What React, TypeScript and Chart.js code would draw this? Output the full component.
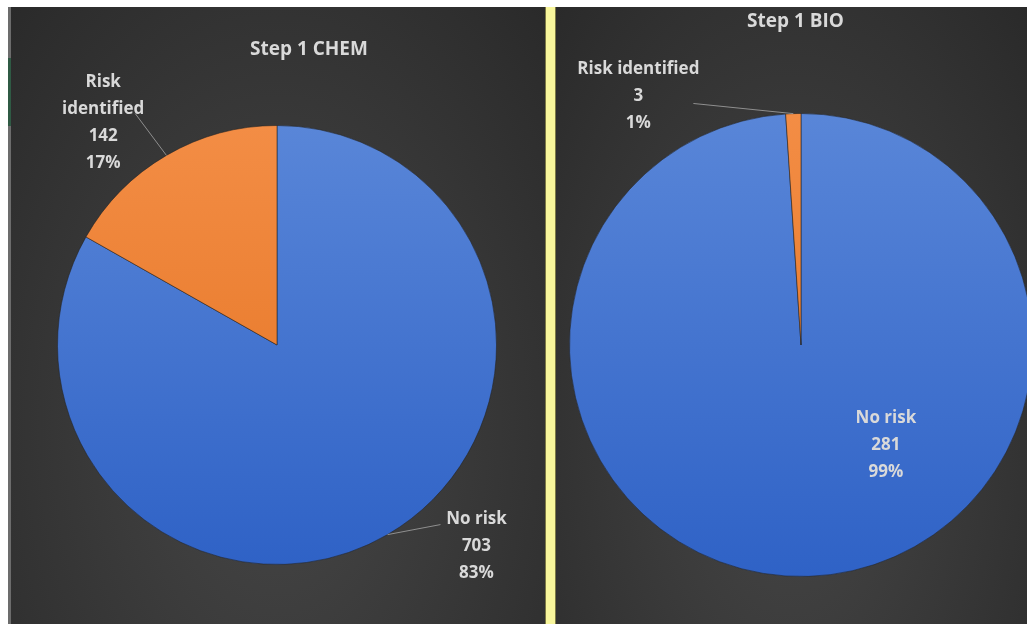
import React, { useEffect, useRef } from "react";
import { Chart, registerables } from "chart.js";

Chart.register(...registerables);

// ---- data ----
const chemTitle = "Step 1 CHEM";
const chemCategories = ["No risk", "Risk identified"];
const chemValues = [703, 142];

const bioTitle = "Step 1 BIO";
const bioCategories = ["No risk", "Risk identified"];
const bioValues = [281, 3];

// ---- styles ----
const sliceTop = ["#5986d8", "#f38d45"];
const sliceBottom = ["#2f62c6", "#e3711f"];
const textColor = "#d9d9d9";
const leaderColor = "#8f8f8f";
const FONT = "'Open Sans', Lato, sans-serif";

type LabelSpec = {
  angle: number; // degrees clockwise from 12 o'clock
  dist: number; // fraction of outer radius
  wrap: boolean;
  leader: [number, number] | null; // leader end offset from label centre
};

const chemLabels: LabelSpec[] = [
  { angle: 135.3, dist: 1.292, wrap: false, leader: [-36, -22] },
  { angle: 322.0, dist: 1.286, wrap: true, leader: [32, -9] },
];
const bioLabels: LabelSpec[] = [
  { angle: 139.6, dist: 0.566, wrap: false, leader: null },
  { angle: 326.8, dist: 1.283, wrap: false, leader: [55, 7] },
];

type Props = {
  title: string;
  titleX: number;
  titleY: number;
  categories: string[];
  values: number[];
  labels: LabelSpec[];
  padding: { left: number; right: number; top: number; bottom: number };
  left: number;
  width: number;
};

function PieChart(p: Props) {
  const ref = useRef<HTMLCanvasElement | null>(null);
  useEffect(() => {
    if (!ref.current) return;
    const total = p.values.reduce((a, b) => a + b, 0);
    const labelPlugin = {
      id: "pieLabels",
      afterDatasetsDraw(chart: any) {
        const ctx = chart.ctx as CanvasRenderingContext2D;
        const meta = chart.getDatasetMeta(0);
        ctx.save();
        ctx.fillStyle = textColor;
        ctx.textAlign = "center";
        ctx.textBaseline = "middle";
        ctx.font = `bold 17px ${FONT}`;
        meta.data.forEach((arc: any, i: number) => {
          const { x, y, startAngle, endAngle, outerRadius } = arc.getProps(
            ["x", "y", "startAngle", "endAngle", "outerRadius"],
            true
          );
          const spec = p.labels[i];
          const a = ((spec.angle - 90) * Math.PI) / 180;
          const lx = x + Math.cos(a) * spec.dist * outerRadius;
          const ly = y + Math.sin(a) * spec.dist * outerRadius;
          if (spec.leader) {
            const mid = (startAngle + endAngle) / 2;
            ctx.strokeStyle = leaderColor;
            ctx.lineWidth = 1;
            ctx.beginPath();
            ctx.moveTo(x + Math.cos(mid) * outerRadius, y + Math.sin(mid) * outerRadius);
            ctx.lineTo(lx + spec.leader[0], ly + spec.leader[1]);
            ctx.stroke();
          }
          const pct = Math.round((p.values[i] / total) * 100) + "%";
          const lines = (spec.wrap ? p.categories[i].split(" ") : [p.categories[i]]).concat([
            String(p.values[i]),
            pct,
          ]);
          const lh = 27;
          lines.forEach((t, k) => {
            ctx.fillText(t, lx, ly + (k - (lines.length - 1) / 2) * lh);
          });
        });
        ctx.font = `bold 19px ${FONT}`;
        ctx.textAlign = "left";
        ctx.fillText(p.title, p.titleX, p.titleY);
        ctx.restore();
      },
    };

    const chart = new Chart(ref.current, {
      type: "pie",
      data: {
        labels: p.categories,
        datasets: [
          {
            data: p.values,
            backgroundColor: (c: any) => {
              const i = c.dataIndex ?? 0;
              const area = c.chart.chartArea;
              if (!area) return sliceTop[i];
              const g = c.chart.ctx.createLinearGradient(0, area.top, 0, area.bottom);
              g.addColorStop(0, sliceTop[i]);
              g.addColorStop(1, sliceBottom[i]);
              return g;
            },
            borderColor: "rgba(35,35,35,0.55)",
            borderWidth: 1,
          },
        ],
      },
      options: {
        animation: false,
        responsive: false,
        maintainAspectRatio: false,
        events: [],
        layout: { padding: p.padding },
        plugins: {
          legend: { display: false },
          tooltip: { enabled: false },
          title: { display: false },
        },
      },
      plugins: [labelPlugin],
    });
    return () => chart.destroy();
  }, []);
  return (
    <canvas
      ref={ref}
      width={p.width}
      height={617}
      style={{ position: "absolute", left: p.left, top: 7, width: p.width, height: 617 }}
    />
  );
}

export default function App() {
  const panelBg = "radial-gradient(ellipse at 50% 68%, #474747 0%, #3a3a3a 45%, #2a2a2a 100%)";
  return (
    <div
      style={{
        position: "fixed",
        left: 0,
        top: 0,
        width: 1027,
        height: 624,
        overflow: "hidden",
        background: "#ffffff",
      }}
    >
      <div
        style={{
          position: "absolute",
          left: 8,
          top: 7,
          width: 537,
          height: 617,
          background: panelBg,
          boxShadow: "inset 3px 0 0 #6c6c6c",
        }}
      />
      <div style={{ position: "absolute", left: 8, top: 58, width: 3, height: 68, background: "#2f5a44" }} />
      <div
        style={{
          position: "absolute",
          left: 545,
          top: 7,
          width: 11,
          height: 617,
          background: "#f8f69c",
          boxShadow: "inset 1px 0 0 #7d7a45, inset -1px 0 0 #7d7a45",
        }}
      />
      <div
        style={{
          position: "absolute",
          left: 556,
          top: 7,
          width: 471,
          height: 617,
          background: panelBg,
        }}
      />
      <PieChart
        title={chemTitle}
        titleX={242}
        titleY={43}
        categories={chemCategories}
        values={chemValues}
        labels={chemLabels}
        padding={{ left: 49, right: 48, top: 118, bottom: 59 }}
        left={8}
        width={537}
      />
      <PieChart
        title={bioTitle}
        titleX={191}
        titleY={15}
        categories={bioCategories}
        values={bioValues}
        labels={bioLabels}
        padding={{ left: 13, right: 13, top: 106, bottom: 47 }}
        left={556}
        width={490}
      />
    </div>
  );
}
